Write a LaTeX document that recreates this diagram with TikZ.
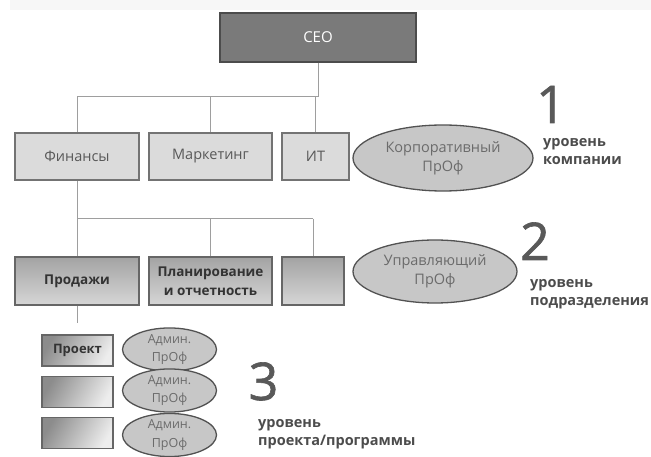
\documentclass[tikz,border=0pt]{standalone}
\usepackage{fontspec}
\setmainfont{Open Sans}
\newfontfamily\numfont[FakeBold=1.2]{Open Sans}
\usetikzlibrary{shapes.geometric}
\begin{document}
\begin{tikzpicture}[x=1pt,y=-1pt,
  conn/.style={draw=black!38, line width=1pt},
  lvone/.style={draw=black!55, line width=1.3pt, fill=black!14, text=black!65, font=\fontsize{14.5}{17}\selectfont, minimum height=47pt, inner sep=0pt},
  lvtwo/.style={draw=black!60, line width=1.3pt, top color=black!36, bottom color=black!16, text=black!80, font=\bfseries\fontsize{13.5}{19}\selectfont, minimum height=48pt, inner sep=0pt, align=center},
  lvthree/.style={draw=black!60, line width=1.3pt, shading=axis, left color=black!45, right color=black!7, shading angle=60, text=black!80, font=\bfseries\fontsize{13}{15}\selectfont, minimum width=71pt, minimum height=31pt, inner sep=0pt},
  prof/.style={ellipse, draw=black!68, line width=1.3pt, fill=black!22, text=black!58, align=center, inner sep=0pt},
  admin/.style={prof, minimum width=94pt, minimum height=35pt, font=\fontsize{12.5}{18.5}\selectfont},
  bignum/.style={text=black!65, font=\numfont\fontsize{52}{52}\selectfont, inner sep=0pt, anchor=base},
  lvtext/.style={text=black!70, font=\bfseries\fontsize{14.5}{18.5}\selectfont, align=left, inner sep=0pt, anchor=north west}
]
\useasboundingbox (0,0) rectangle (651,457);
\fill[black!3] (10,0) rectangle (651,10);

% level 0
\node[draw=black!70, line width=1.3pt, fill=black!52, text=white, font=\fontsize{15}{17}\selectfont, minimum width=196pt, minimum height=49pt, inner sep=0pt] (ceo) at (318,37.5) {CEO};

% level 1
\node[lvone, minimum width=124pt] (fin) at (77,156.5) {Финансы};
\node[lvone, minimum width=123pt] (mkt) at (210.5,156.5) {Маркетинг};
\node[lvone, minimum width=67pt] (it) at (315.5,156.5) {ИТ};
\node[prof, minimum width=180pt, minimum height=66pt, font=\fontsize{14.5}{19}\selectfont] (corp) at (443,158) {Корпоративный\\ПрОф};

\coordinate (bus1) at (318,97);
\draw[conn] (ceo.south) -- (bus1) -| (fin.north);
\draw[conn] (mkt.north) |- (bus1);
\draw[conn] (bus1) -| (it.north);

\node[bignum] (n1) at (551,123) {1};
\node[lvtext] (t1) at (543,138) {уровень\\компании};

% level 2
\node[lvtwo, minimum width=124pt] (prod) at (77,281) {Продажи};
\node[lvtwo, minimum width=123pt] (plan) at (210.5,281) {Планирование\\и отчетность};
\node[lvtwo, minimum width=62pt] (dept) at (313,281) {};
\node[prof, minimum width=164pt, minimum height=63pt, font=\fontsize{14.5}{19}\selectfont] (mgr) at (435,271.5) {Управляющий\\ПрОф};

\coordinate (bus2) at (313,219);
\draw[conn] (fin.south) |- (bus2);
\draw[conn] (plan.north) |- (bus2);
\draw[conn] (bus2) -- (dept.north);
\draw[conn] (77,219) -- (prod.north);

\node[bignum] (n2) at (535,260) {2};
\node[lvtext] (t2) at (530,279) {уровень\\подразделения};

% level 3
\coordinate (drop) at (77,323);
\draw[conn] (prod.south) -- (drop);

\node[lvthree] (proj) at (77.5,350.5) {Проект};
\node[lvthree] (pb) at (77.5,392) {};
\node[lvthree] (pc) at (77.5,433) {};
\node[admin] (a1) at (169.5,349.5) {Админ.\\ПрОф};
\node[admin] (a2) at (169.5,390.5) {Админ.\\ПрОф};
\node[admin] (a3) at (169.5,435) {Админ.\\ПрОф};

\node[bignum] (n3) at (263.5,400) {3};
\node[lvtext] (t3) at (258,419) {уровень\\проекта/программы};
\end{tikzpicture}
\end{document}
